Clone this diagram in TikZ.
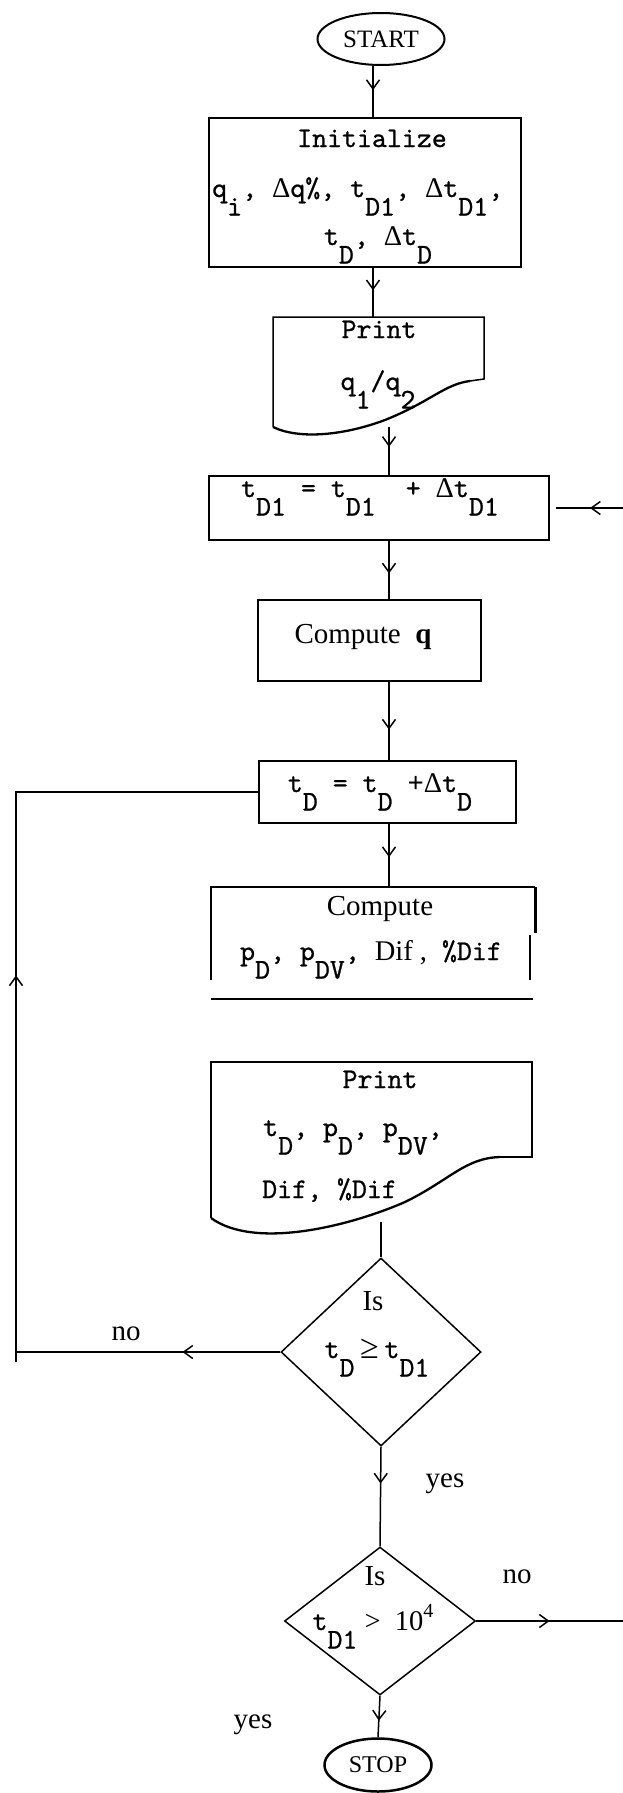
\documentclass[tikz,border=0pt]{standalone}
\usepackage{fontspec}
\setmainfont{Liberation Serif}
\setmonofont{lmmono10-regular.otf}[FakeBold=0.8]
\usetikzlibrary{shapes.geometric,arrows.meta,decorations.markings,calc}
\newcommand\dn[1]{\raisebox{-0.65em}{#1}}
\newcommand\upx[1]{\raisebox{0.45em}{\fontsize{20}{20}\selectfont #1}}
\newcommand\TT{\ttfamily\fontsize{28.5}{34}\selectfont}
\newcommand\RM{\rmfamily\fontsize{29}{34}\selectfont}
\newcommand\DL{{\rmfamily Δ}}
\tikzset{
  ln/.style={line width=1.5pt},
  box/.style={draw, line width=1.5pt, rectangle, inner sep=0pt},
  ghost/.style={rectangle, inner sep=0pt},
  term/.style={draw, ellipse, line width=2pt, inner sep=0pt},
  dec/.style={draw, diamond, line width=1.5pt, inner sep=0pt},
  lbl/.style={inner sep=0pt, font=\RM, anchor=base},
  tlbl/.style={inner sep=0pt, font=\TT, anchor=base},
  midarr/.style={postaction={decorate}, decoration={markings, mark=at position #1 with {\arrow{Straight Barb[length=9pt,width=13pt,line width=1.5pt]}}}},
}
\begin{document}
\begin{tikzpicture}[x=1pt,y=-1pt]
\useasboundingbox (0,0) rectangle (623,1793);
% ---------- shapes ----------
\node[term, minimum width=127pt, minimum height=52pt, font=\rmfamily\fontsize{25}{30}\selectfont] (start) at (381,39) {START};
\node[box, minimum width=312pt, minimum height=149pt] (init) at (365,192.5) {};
\node[ghost, minimum width=211pt, minimum height=110pt] (p1) at (378.5,372) {};
\draw[ln] (273,427) -- (273,317) -- (484,317) -- (484,379) -- (470,381);
\draw[line width=2.3pt] (470,381) .. controls (445,384) and (430,402) .. (385,420) .. controls (345,435) and (300,440) .. (273,427);
\node[box, minimum width=340pt, minimum height=64pt] (td1) at (379,508) {};
\node[box, minimum width=223pt, minimum height=81pt] (cq) at (369.5,640.5) {};
\node[box, minimum width=257pt, minimum height=62pt] (td) at (387.5,792) {};
\node[ghost, minimum width=321pt, minimum height=112pt] (c2) at (371.5,943) {};
\draw[ln] ($(c2.south west)+(0,-19)$) -- (c2.north west) -- ($(c2.north east)+(3,0)$);
\draw[line width=3pt] ($(c2.north east)+(3,0)$) -- ++(0,46);
\draw[ln] ($(c2.north east)+(-2,48)$) -- ($(c2.south east)+(-2,-19)$);
\draw[ln] (c2.south west) -- ($(c2.south east)+(1,0)$);
\node[ghost, minimum width=321pt, minimum height=160pt] (pr2) at (371.5,1142) {};
\draw[ln] (211,1218) -- (211,1062) -- (532,1062) -- (532,1157) -- (500,1157);
\draw[line width=2.3pt] (500,1157) .. controls (465,1158) and (450,1180) .. (405,1202) .. controls (350,1226) and (255,1250) .. (211,1218);
\node[dec, minimum width=200pt, minimum height=188pt] (d1) at (381,1352) {};
\node[dec, minimum width=191pt, minimum height=148pt] (d2) at (380,1621) {};
\node[term, minimum width=107pt, minimum height=53pt, line width=2.5pt, font=\rmfamily\fontsize{24}{30}\selectfont] (stop) at (378,1765) {STOP};
% ---------- texts ----------
\node[tlbl] (init1) at (372,147) {Initialize};
\node[tlbl, anchor=base west] (init2) at (212,197) {q\dn{i}, \DL q\%, t\dn{D1}, \DL t\dn{D1},};
\node[tlbl] (init3) at (378,245) {t\dn{D}, \DL t\dn{D}};
\node[tlbl] (p1a) at (379,338) {Print};
\node[tlbl] (p1b) at (378,390) {q\dn{1}/q\dn{2}};
\node[tlbl] (td1t) at (370,497) {t\dn{D1} = t\dn{D1}\ \ + \DL t\dn{D1}};
\node[lbl] (cqt) at (363,643) {Compute\ \ \textbf{q}};
\node[tlbl] (tdt) at (380,792) {t\dn{D} = t\dn{D} {\rmfamily\bfseries +}\DL t\dn{D}};
\node[lbl] (c2a) at (380,915) {Compute};
\node[tlbl] (c2b) at (371,960) {p\dn{D}, p\dn{DV}, {\rmfamily Dif ,} \%Dif};
\node[tlbl] (p2a) at (380,1088) {Print};
\node[tlbl, anchor=base west] (p2b) at (263,1136) {t\dn{D}, p\dn{D}, p\dn{DV},};
\node[tlbl, anchor=base west] (p2c) at (262,1198) {Dif, \%Dif};
\node[lbl] (d1a) at (373,1310) {Is};
\node[tlbl] (d1b) at (377,1358) {t\dn{D}{\rmfamily\fontsize{34}{34}\selectfont\,≥\,}t\dn{D1}};
\node[lbl] (d2a) at (375,1585) {Is};
\node[tlbl] (d2b) at (373,1630) {t\dn{D1}{\rmfamily\ >\ \ 10\upx{4}}};
\node[lbl] (no1) at (126,1340) {no};
\node[lbl] (yes1) at (445,1487) {yes};
\node[lbl] (no2) at (517,1583) {no};
\node[lbl] (yes2) at (253,1728) {yes};
% ---------- connectors ----------
\coordinate (xa) at (373,0);
\coordinate (xb) at (389,0);
\draw[ln, midarr=0.47] (xa |- start.south) -- (xa |- init.north);
\draw[ln, midarr=0.46] (xa |- init.south) -- (xa |- p1.north);
\draw[ln, midarr=0.41] (xb |- p1.south) -- (xb |- td1.north);
\draw[ln, midarr=0.56] (xb |- td1.south) -- (xb |- cq.north);
\draw[ln, midarr=0.61] (xb |- cq.south) -- (xb |- td.north);
\draw[ln, midarr=0.53] (xb |- td.south) -- (xb |- c2.north);
\draw[ln] (d1.north |- pr2.south) -- (d1.north);
\draw[ln, midarr=0.37] (d1.south) -- (d2.north);
\draw[ln, midarr=0.6] (d2.south) -- (stop.north);
\coordinate (rout) at (623,1621);
\draw[ln, midarr=0.5] (d2.east) -- (rout);
\coordinate (rin) at (623,508);
\draw[ln, midarr=0.49] (rin) -- ([xshift=6pt]td1.east);
\coordinate (lb) at (16,1352);
\coordinate (lbe) at (16,1362);
\coordinate (lt) at (16,792);
\draw[ln, midarr=0.37] (d1.west) -- (lb);
\draw[ln, midarr=0.476] (lbe) -- (lt) -- (td.west);
\end{tikzpicture}
\end{document}
